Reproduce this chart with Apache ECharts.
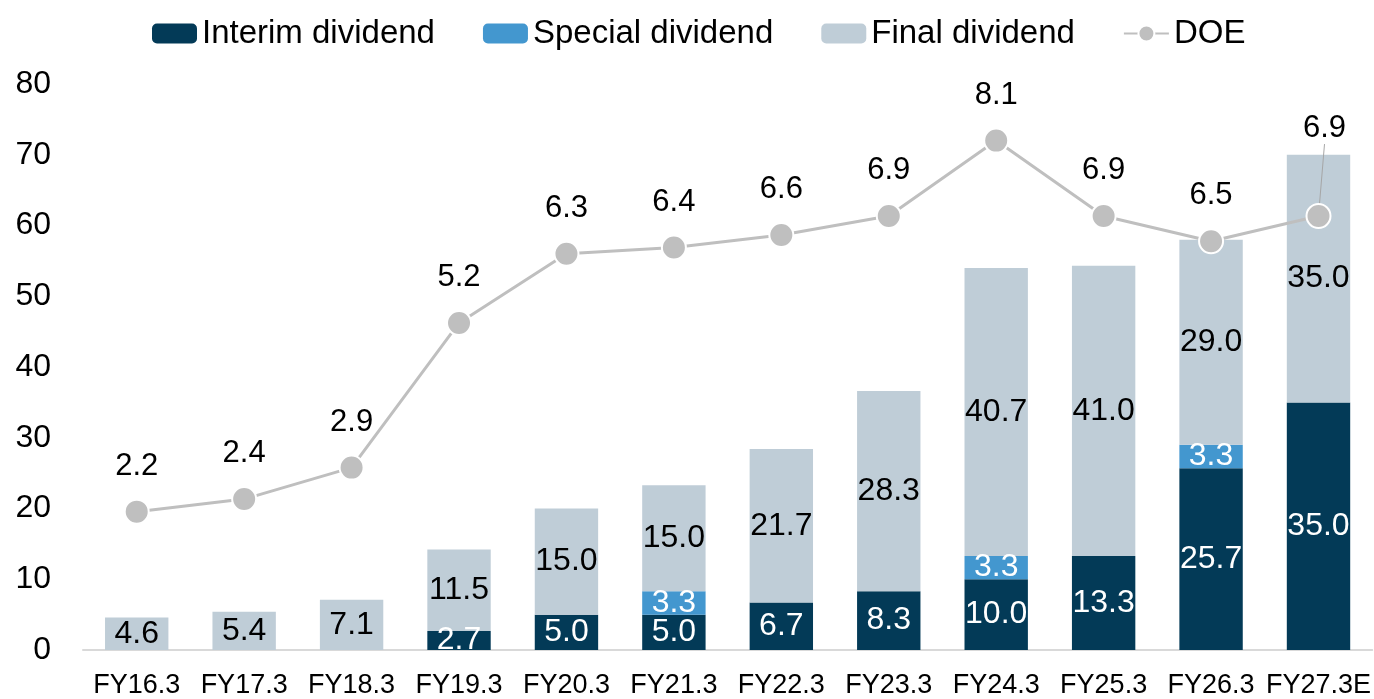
<!DOCTYPE html>
<html>
<head>
<meta charset="utf-8">
<script src="https://cdn.jsdelivr.net/npm/echarts@6/dist/echarts.min.js"></script>
<style>
  html, body { margin: 0; padding: 0; background: #fff; }
  #chart { width: 1374px; height: 699px; }
</style>
</head>
<body>
<div id="chart"></div>
<script>
// fiscal years on the x axis
const years = ['FY16.3', 'FY17.3', 'FY18.3', 'FY19.3', 'FY20.3', 'FY21.3', 'FY22.3', 'FY23.3', 'FY24.3', 'FY25.3', 'FY26.3', 'FY27.3E'];

// dividend parts (stacked bars), null where the part is absent
const interim = [null, null, null, 2.7, 5.0, 5.0, 6.7, 8.3, 10.0, 13.3, 25.7, 35.0];
const special = [null, null, null, null, null, 3.3, null, null, 3.3, null, 3.3, null];
const finalDiv = [4.6, 5.4, 7.1, 11.5, 15.0, 15.0, 21.7, 28.3, 40.7, 41.0, 29.0, 35.0];

// DOE, drawn on a hidden second axis
const doe = [2.2, 2.4, 2.9, 5.2, 6.3, 6.4, 6.6, 6.9, 8.1, 6.9, 6.5, 6.9];

const font = '"Liberation Sans", Arial, sans-serif';

const chart = echarts.init(document.getElementById('chart'));

function barSeries(name, data, color, textColor) {
    return {
        name: name,
        type: 'bar',
        stack: 'div',
        barWidth: '59%',
        data: data,
        itemStyle: { color: color },
        label: {
            show: true,
            position: 'inside',
            color: textColor,
            fontSize: 32,
            fontFamily: font,
            formatter: p => p.value == null ? '' : Number(p.value).toFixed(1)
        }
    };
}

// last DOE point sits inside the bar, so its label is lifted with a leader line
const doeData = doe.map((v, i) => i === doe.length - 1
    ? { value: v, labelLine: { show: true, lineStyle: { color: '#a6a6a6', width: 1 } } }
    : v);

const option = {
    animation: false,
    textStyle: { fontFamily: font },
    legend: {
        left: 147,
        top: 12,
        itemWidth: 45,
        itemHeight: 20,
        itemGap: 48,
        textStyle: { fontSize: 33, color: '#000', fontFamily: font },
        data: ['Interim dividend', 'Special dividend', 'Final dividend', 'DOE']
    },
    grid: { left: 83, right: 1, top: 84, bottom: 49 },
    xAxis: {
        type: 'category',
        data: years,
        axisTick: { show: false },
        axisLine: { lineStyle: { color: '#d9d9d9', width: 2 } },
        axisLabel: { fontSize: 27, color: '#000', margin: 22, interval: 0 }
    },
    yAxis: [
        {
            type: 'value',
            min: 0,
            max: 80,
            interval: 10,
            splitLine: { show: false },
            axisLabel: { fontSize: 32, color: '#000', margin: 32 }
        },
        { type: 'value', min: 0, max: 9, show: false, splitLine: { show: false } }
    ],
    series: [
        barSeries('Interim dividend', interim, '#033a57', '#fff'),
        barSeries('Special dividend', special, '#4397cf', '#fff'),
        barSeries('Final dividend', finalDiv, '#bfcdd7', '#000'),
        {
            name: 'DOE',
            type: 'line',
            yAxisIndex: 1,
            data: doeData,
            symbol: 'circle',
            symbolSize: 24,
            z: 5,
            lineStyle: { color: '#bfbfbf', width: 3 },
            itemStyle: { color: '#bfbfbf', borderColor: '#fff', borderWidth: 2 },
            label: {
                show: true,
                position: 'top',
                distance: 17,
                fontSize: 31,
                color: '#000',
                formatter: p => p.value.toFixed(1)
            },
            labelLine: { show: false },
            labelLayout: p => p.dataIndex === doe.length - 1 ? { dx: 6, dy: -42 } : {}
        }
    ]
};

chart.setOption(option);
</script>
</body>
</html>
